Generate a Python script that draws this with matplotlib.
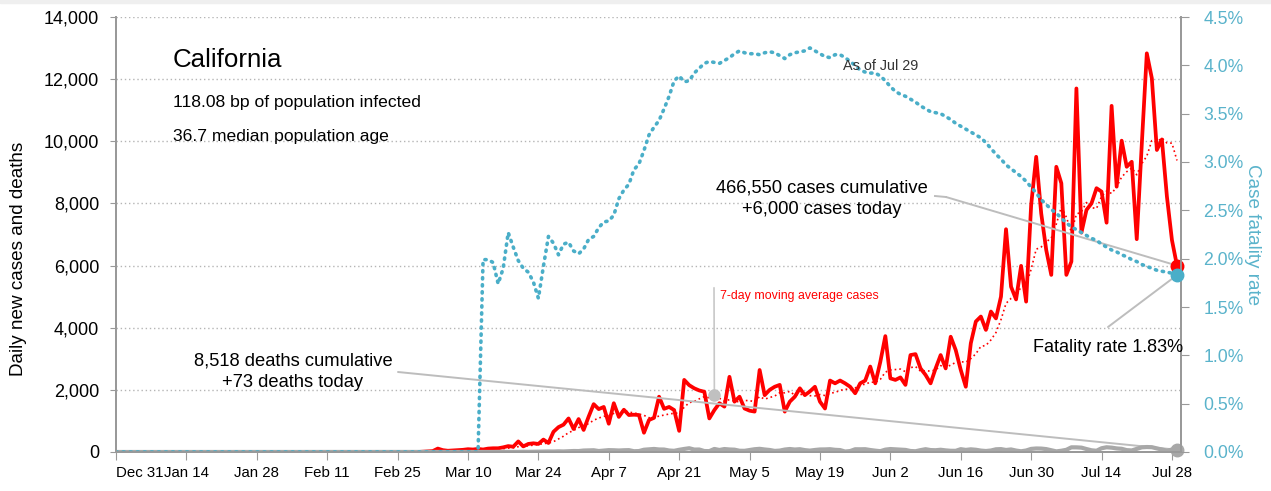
import matplotlib
matplotlib.use('Agg')
import matplotlib.pyplot as plt
from matplotlib.patches import Rectangle
import pandas as pd

# ---- data ----
cases_mar = [10, 20, 30, 110, 60, 40, 50, 60, 70, 90, 80, 100, 80, 110, 120, 120, 150, 190, 170, 340,
             180, 260, 280, 260, 400, 290, 650, 800, 880, 1080, 740]
cases_apr = [1060, 710, 1140, 1540, 1380, 1450, 910, 1570, 1130, 1360, 1190, 1200, 1190, 620, 1030,
             1100, 1780, 1390, 1450, 1350, 680, 2320, 2150, 2050, 1980, 1940, 1080, 1350, 1570, 1460]
cases_may = [2420, 1620, 1780, 1400, 1330, 1300, 2640, 1830, 2000, 2100, 2160, 1300, 1620, 1780, 2050,
             1830, 1950, 2100, 1620, 1400, 2300, 2210, 2300, 2210, 2100, 1890, 2210, 2300, 2750, 2210, 2900]
cases_jun = [3730, 2370, 2320, 2400, 2160, 3120, 3150, 2690, 2480, 2210, 2690, 3120, 2690, 3710, 3280,
             2640, 2100, 3500, 4200, 4360, 3930, 4520, 4300, 5000, 7170, 5320, 4910, 5990, 4840, 7950]
cases_jul = [9500, 7680, 6500, 5700, 9180, 8650, 5700, 6130, 11700, 7060, 7790, 8000, 8490, 8380, 7380,
             11140, 8540, 10020, 9180, 9340, 6850, 9900, 12830, 12030, 9720, 10060, 8220, 6820, 6000]

deaths_mar = [0, 0, 0, 1, 0, 2, 0, 1, 0, 2, 1, 2, 3, 0, 2, 5, 4, 4, 5, 3, 7, 5, 8, 10, 13, 17, 15, 21, 17, 24, 32]
deaths_apr = [30, 47, 52, 56, 31, 47, 60, 56, 48, 56, 60, 25, 30, 73, 86, 98, 81, 79, 48, 38,
              71, 98, 121, 78, 80, 31, 28, 98, 65, 95]
deaths_may = [81, 75, 40, 38, 64, 89, 102, 81, 65, 35, 45, 79, 96, 79, 90, 60, 44, 65, 81, 83,
              90, 70, 62, 15, 30, 88, 87, 90, 64, 43, 26]
deaths_jun = [76, 95, 87, 76, 67, 32, 24, 60, 90, 62, 57, 72, 52, 39, 38, 91, 67, 86, 72, 45,
              32, 48, 87, 93, 65, 82, 46, 23, 48, 100]
deaths_jul = [113, 110, 93, 58, 20, 40, 70, 150, 149, 140, 95, 55, 40, 120, 152, 140, 115, 103, 60, 50,
              100, 150, 160, 155, 115, 80, 40, 80, 73]

# case fatality rate (%), from Mar 13
cfr_mar = [1.99, 1.99, 1.96, 1.74, 1.90, 2.27, 2.12, 1.98, 1.90, 1.86, 1.76, 1.59, 1.92, 2.23, 2.16,
           2.04, 2.15, 2.17, 2.08]
cfr_apr = [2.05, 2.10, 2.20, 2.23, 2.32, 2.38, 2.39, 2.45, 2.62, 2.71, 2.77, 2.92, 2.98, 3.12, 3.28,
           3.36, 3.43, 3.55, 3.68, 3.84, 3.89, 3.83, 3.84, 3.92, 3.97, 4.02, 4.04, 4.03, 4.02, 4.05]
cfr_may = [4.08, 4.12, 4.15, 4.13, 4.12, 4.12, 4.11, 4.13, 4.14, 4.13, 4.10, 4.07, 4.11, 4.13, 4.14,
           4.15, 4.18, 4.15, 4.12, 4.09, 4.08, 4.11, 4.11, 4.08, 4.04, 4.00, 3.95, 3.93, 3.92, 3.92, 3.89]
cfr_jun = [3.84, 3.78, 3.73, 3.70, 3.68, 3.65, 3.62, 3.58, 3.55, 3.52, 3.51, 3.50, 3.47, 3.44, 3.40,
           3.37, 3.34, 3.31, 3.28, 3.25, 3.20, 3.14, 3.08, 3.03, 2.97, 2.93, 2.89, 2.85, 2.80, 2.74]
cfr_jul = [2.68, 2.61, 2.56, 2.51, 2.47, 2.42, 2.37, 2.33, 2.30, 2.27, 2.24, 2.21, 2.19, 2.15, 2.12,
           2.09, 2.07, 2.04, 2.02, 1.99, 1.97, 1.94, 1.92, 1.90, 1.88, 1.87, 1.86, 1.85, 1.83]

plt.rcParams['font.family'] = ['Liberation Sans', 'DejaVu Sans']

RED = '#ff0000'
TEAL = '#4aaec8'
TEAL_TXT = '#5ab3cb'
GRAY = '#a8a8a8'
LINE = '#bdbdbd'

days = pd.date_range('2019-12-31', '2020-07-29')
cases = pd.Series(cases_mar + cases_apr + cases_may + cases_jun + cases_jul,
                  index=pd.date_range('2020-03-01', periods=151)).reindex(days, fill_value=0)
deaths = pd.Series(deaths_mar + deaths_apr + deaths_may + deaths_jun + deaths_jul,
                   index=pd.date_range('2020-03-01', periods=151)).reindex(days, fill_value=0)
cfr = pd.Series(cfr_mar + cfr_apr + cfr_may + cfr_jun + cfr_jul,
                index=pd.date_range('2020-03-13', periods=139)).reindex(days, fill_value=0)
avg7 = cases.rolling(7, min_periods=1).mean()

W, H = 1271, 491
fig = plt.figure(figsize=(W / 100, H / 100), dpi=100)
fig.patches.append(Rectangle((0, 1 - 3 / H), 1, 3 / H, transform=fig.transFigure,
                             color='#efefef', zorder=0))
ax = fig.add_axes([116 / W, 39 / H, (1181 - 116) / W, (452 - 17) / H])
ax2 = ax.twinx()

last = days[-1]
ax.plot(days, cases, color=RED, lw=2.7, zorder=3)
ax.plot(days, avg7, color=RED, lw=1.2, ls=(0, (1, 1.8)), zorder=3)
ax.plot(days, deaths, color=GRAY, lw=3, zorder=4)
ax.plot([last], [cases.iloc[-1]], 'o', color=RED, ms=9, clip_on=False, zorder=5)
ax.plot([last], [deaths.iloc[-1]], 'o', color=GRAY, ms=9, clip_on=False, zorder=5)

ax2.plot(days, cfr, color=TEAL, lw=2.6, ls=(0, (0.35, 1.6)), dash_capstyle='round', zorder=2)
ax2.plot([last], [cfr.iloc[-1]], 'o', color=TEAL, ms=9, clip_on=False, zorder=5)

x0 = pd.Timestamp('2019-12-31')
ax.set_xlim(x0, x0 + pd.Timedelta(days=211.8))
ax.set_ylim(0, 14000)
ax2.set_ylim(0, 4.5)

ticks = pd.date_range('2019-12-31', '2020-07-28', freq='14D')
ax.set_xticks(ticks)
ax.set_xticklabels([f'{d:%b} {d.day}' for d in ticks], fontsize=10.8)
ax.get_xticklabels()[0].set_horizontalalignment('left')
yt = list(range(0, 14001, 2000))
ax.set_yticks(yt)
ax.set_yticklabels([f'{v:,}' for v in yt], fontsize=13)
rt = [i * 0.5 for i in range(10)]
ax2.set_yticks(rt)
ax2.set_yticklabels([f'{v:.1f}%' for v in rt], fontsize=12.7, color=TEAL_TXT)

ax.yaxis.grid(True, color='#b5b5b5', ls=(0, (1, 2)), lw=1)
ax.set_axisbelow(True)
for a in (ax, ax2):
    a.spines['top'].set_visible(False)
    for s in ('left', 'right', 'bottom'):
        a.spines[s].set_color('#999999')
        a.spines[s].set_linewidth(1.3)
ax.tick_params(axis='x', length=6, color='#999999', pad=4)
ax.tick_params(axis='y', length=4, color='#999999', pad=8)
ax2.tick_params(axis='y', length=6, color='#999999', pad=10)

ax.set_ylabel('Daily new cases and deaths', fontsize=13.6)
ax.yaxis.set_label_coords(-0.084, 0.444)
ax2.set_ylabel('Case fatality rate', fontsize=13.6, color=TEAL_TXT, rotation=-90, va='center')
ax2.yaxis.set_label_coords(1.0667, 0.499)


def ftext(x, y, s, **kw):
    fig.text(x / W, 1 - y / H, s, **kw)


ftext(173, 60, 'California', fontsize=18.6, va='center')
ftext(173, 102, '118.08 bp of population infected', fontsize=12.6, va='center')
ftext(173, 137, '36.7 median population age', fontsize=12.6, va='center')
ftext(843, 66, 'As of Jul 29', fontsize=10.4, va='center', color='#333333')
ftext(822, 199, '466,550 cases cumulative\n+6,000 cases today', fontsize=13.2,
      ha='center', va='center', linespacing=1.35)
ftext(293, 372, '8,518 deaths cumulative\n+73 deaths today', fontsize=13.2,
      ha='center', va='center', linespacing=1.35)
ftext(1183, 347, 'Fatality rate 1.83%', fontsize=13, ha='right', va='center')
ftext(720, 296, '7-day moving average cases', fontsize=8.9, va='center', color=RED)

arrow = dict(arrowstyle='-', color=LINE, lw=1.4, shrinkA=0, shrinkB=0)
ax.annotate('', xy=(last, cases.iloc[-1]), xytext=(946, H - 197),
            textcoords='figure pixels', arrowprops=arrow)
ax.plot([935, 946], [H - 196, H - 197], color=LINE, lw=1.4, transform=None, clip_on=False)
ax.annotate('', xy=(last, deaths.iloc[-1]), xytext=(398, H - 372),
            textcoords='figure pixels', arrowprops=arrow)
ax2.annotate('', xy=(last, cfr.iloc[-1]), xytext=(1108, H - 327),
             textcoords='figure pixels', arrowprops=arrow)
ma_day = pd.Timestamp('2020-04-28')
ax.annotate('', xy=(ma_day, avg7[ma_day]), xytext=(714, H - 285),
            textcoords='figure pixels', arrowprops=dict(arrowstyle='-', color='#c8c8c8', lw=1.2))
ax.plot([ma_day], [avg7[ma_day]], 'o', color='#c0c0c0', ms=8, zorder=6)

fig.savefig('out.png', dpi=100)
